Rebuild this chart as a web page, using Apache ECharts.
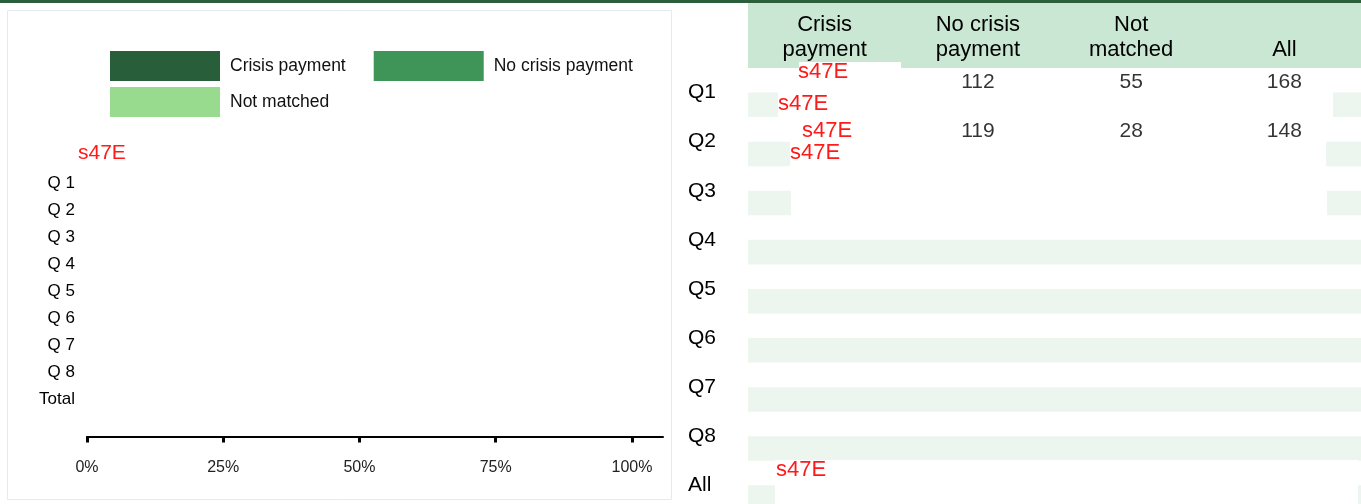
<!DOCTYPE html>
<html>
<head>
<meta charset="utf-8">
<script src="https://cdn.jsdelivr.net/npm/echarts@6/dist/echarts.min.js"></script>
<style>
    html, body { margin: 0; padding: 0; background: #fff; }
    #chart { width: 1361px; height: 504px; }
</style>
</head>
<body>
<div id="chart"></div>
<script>
// left chart: stacked share bars (all values redacted)
const barCategories = ['Q 1', 'Q 2', 'Q 3', 'Q 4', 'Q 5', 'Q 6', 'Q 7', 'Q 8', 'Total'];
const crisisShare = [null, null, null, null, null, null, null, null, null];
const noCrisisShare = [null, null, null, null, null, null, null, null, null];
const notMatchedShare = [null, null, null, null, null, null, null, null, null];
const shareTicks = [0, 0.25, 0.5, 0.75, 1];

// right table
const tableCols = ['Crisis\npayment', 'No crisis\npayment', 'Not\nmatched', 'All'];
const tableRows = ['Q1', 'Q2', 'Q3', 'Q4', 'Q5', 'Q6', 'Q7', 'Q8', 'All'];
const rowIndex = [0, 1, 2, 3, 4, 5, 6, 7, 8];
const crisisCol = [null, null, null, null, null, null, null, null, null];
const noCrisisCol = [112, 119, null, null, null, null, null, null, null];
const notMatchedCol = [55, 28, null, null, null, null, null, null, null];
const allCol = [168, 148, null, null, null, null, null, null, null];

const FONT = 'Liberation Sans, Arial, sans-serif';
const colors = ['#285e3a', '#3f9458', '#98da8e'];

let cells = [];
[crisisCol, noCrisisCol, notMatchedCol, allCol].forEach(function (col, c) {
    col.forEach(function (v, r) {
        if (v !== null) cells.push([c, r, v]);
    });
});

function redact(x, y, w, h) {
    return {type: 'rect', z: 10, shape: {x: x, y: y, width: w, height: h}, style: {fill: '#fff'}};
}
function s47(x, y, size) {
    return {type: 'text', z: 11, x: x, y: y, style: {text: 's47E', fill: '#ff1a1a', font: size + 'px ' + FONT, textVerticalAlign: 'middle'}};
}

const chart = echarts.init(document.getElementById('chart'));
chart.setOption({
    animation: false,
    color: colors,
    legend: [{
        left: 110, top: 51, padding: 0, itemWidth: 110, itemHeight: 30, itemGap: 28, icon: 'rect',
        data: ['Crisis payment', 'No crisis payment'],
        textStyle: {fontFamily: FONT, fontSize: 17.5, color: '#111', padding: [0, 0, 0, 5]}
    }, {
        left: 110, top: 87, padding: 0, itemWidth: 110, itemHeight: 30, icon: 'rect',
        data: ['Not matched'],
        textStyle: {fontFamily: FONT, fontSize: 17.5, color: '#111', padding: [0, 0, 0, 5]}
    }],
    grid: [
        {left: 87, top: 169.5, width: 576, height: 243},
        {left: 748, top: 68, width: 613, height: 436}
    ],
    xAxis: [{
        gridIndex: 0, type: 'value', min: 0, max: 1.057, offset: 24,
        axisLine: {show: true, lineStyle: {color: '#000', width: 2}},
        axisTick: {show: true, customValues: shareTicks, length: 6, lineStyle: {color: '#000', width: 3}},
        axisLabel: {customValues: shareTicks, margin: 23, fontFamily: FONT, fontSize: 16, color: '#222',
            formatter: function (v) { return Math.round(v * 100) + '%'; }},
        splitLine: {show: false}
    }, {
        gridIndex: 1, type: 'category', position: 'top', data: tableCols,
        axisLine: {show: false}, axisTick: {show: false},
        axisLabel: {margin: 6, fontFamily: FONT, fontSize: 22, lineHeight: 25, color: '#000'}
    }],
    yAxis: [{
        gridIndex: 0, type: 'category', inverse: true, data: barCategories,
        axisLine: {show: false}, axisTick: {show: false},
        axisLabel: {margin: 12, fontFamily: FONT, fontSize: 17, color: '#000', padding: [3, 0, 0, 0]}
    }, {
        // table rows on a value scale: one unit per row, 49.1px a row
        gridIndex: 1, type: 'value', inverse: true, min: -0.5, max: 8.38,
        axisLine: {show: false}, axisTick: {show: false}, splitLine: {show: false},
        axisLabel: {customValues: rowIndex, margin: 60, align: 'left', fontFamily: FONT, fontSize: 21, color: '#000',
            padding: [5, 0, 0, 0],
            formatter: function (v) { return tableRows[v]; }}
    }],
    series: [
        {name: 'Crisis payment', type: 'bar', stack: 'share', xAxisIndex: 0, yAxisIndex: 0, barWidth: 18, data: crisisShare},
        {name: 'No crisis payment', type: 'bar', stack: 'share', xAxisIndex: 0, yAxisIndex: 0, barWidth: 18, data: noCrisisShare},
        {name: 'Not matched', type: 'bar', stack: 'share', xAxisIndex: 0, yAxisIndex: 0, barWidth: 18, data: notMatchedShare},
        {
            // row stripes in the lower half of each table row
            type: 'custom', xAxisIndex: 1, yAxisIndex: 1, silent: true, z: 1, clip: false,
            data: rowIndex.map(function (i) { return [0, i]; }),
            renderItem: function (params, api) {
                const pt = api.coord([0, api.value(1)]);
                const band = api.size([0, 1])[1];
                return {
                    type: 'rect',
                    shape: {x: params.coordSys.x, y: pt[1], width: params.coordSys.width, height: band / 2},
                    style: {fill: '#edf6ee'}
                };
            }
        },
        {
            type: 'scatter', xAxisIndex: 1, yAxisIndex: 1, symbolSize: 0, z: 5,
            data: cells,
            label: {show: true, position: 'inside', offset: [0, -10], fontFamily: FONT, fontSize: 21, color: '#000',
                formatter: function (p) { return p.value[2]; }}
        }
    ],
    graphic: [
        {type: 'rect', z: -1, shape: {x: 748, y: 0, width: 613, height: 68}, style: {fill: '#c9e7d2'}},
        {type: 'rect', z: 12, shape: {x: 0, y: 0, width: 1361, height: 3}, style: {fill: '#2b5f3b'}},
        {type: 'rect', z: -1, shape: {x: 7.5, y: 10.5, width: 664, height: 489}, style: {fill: 'none', stroke: '#e3ecec', lineWidth: 1}},
        s47(78, 153, 21),
        redact(799, 62, 102, 6),
        redact(778, 92, 555, 26),
        redact(790, 141, 536, 27),
        redact(791, 190, 536, 27),
        redact(775, 460, 583, 44),
        s47(798, 72, 22),
        s47(778, 104, 22),
        s47(802, 131, 22),
        s47(790, 153, 22),
        s47(776, 470, 22)
    ]
});
</script>
</body>
</html>
